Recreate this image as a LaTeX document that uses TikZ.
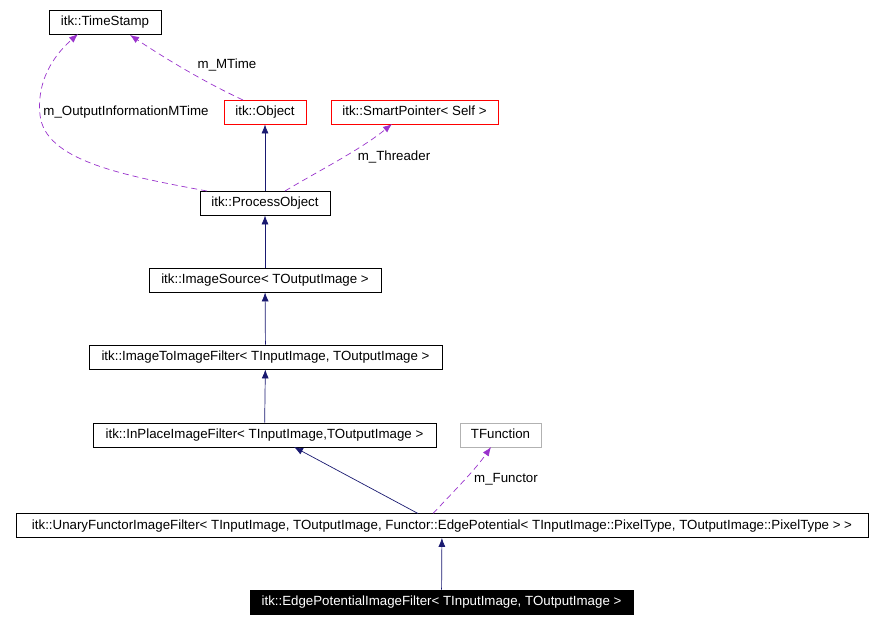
\documentclass[tikz,border=0pt]{standalone}
\usepackage{fontspec}
\setmainfont{Liberation Sans}
\usetikzlibrary{arrows.meta}
\begin{document}
\begin{tikzpicture}[x=1pt,y=-1pt,
  box/.style={draw=black,fill=white,font=\fontsize{13.3}{15}\selectfont,minimum height=24,inner sep=0pt,text height=9.5pt,text depth=2.5pt,line width=0.8pt},
  inh/.style={color={rgb,255:red,25;green,25;blue,112},-{Latex[length=9,width=7]},line width=0.7pt},
  use/.style={draw={rgb,255:red,153;green,50;blue,204},dash pattern=on 6pt off 4pt,-{Latex[length=9,width=7]},line width=0.7pt},
  lbl/.style={font=\fontsize{13.3}{15}\selectfont,fill=white,inner sep=1pt}]
\useasboundingbox (0,0) rectangle (874,623);
\node[box,minimum width=112] (ts) at (105,22) {itk::TimeStamp};
\node[box,draw=red,minimum width=82] (obj) at (265,112) {itk::Object};
\node[box,draw=red,minimum width=167] (sp) at (414.5,112) {itk::SmartPointer< Self >};
\node[box,minimum width=130] (po) at (265,203) {itk::ProcessObject};
\node[box,minimum width=232] (is) at (265,280) {itk::ImageSource< TOutputImage >};
\node[box,minimum width=353] (iti) at (265.5,357) {itk::ImageToImageFilter< TInputImage, TOutputImage >};
\node[box,minimum width=343] (ip) at (264.5,435) {itk::InPlaceImageFilter< TInputImage,TOutputImage >};
\node[box,draw=black!30,minimum width=81] (tf) at (500.5,435) {TFunction};
\node[box,minimum width=852] (un) at (442,525.5) {itk::UnaryFunctorImageFilter< TInputImage, TOutputImage, Functor::EdgePotential< TInputImage::PixelType, TOutputImage::PixelType > >};
\node[box,fill=black,text=white,minimum width=383] (ep) at (441.5,602) {itk::EdgePotentialImageFilter< TInputImage, TOutputImage >};

\draw[inh] (po) -- (obj);
\draw[inh] (is) -- (po);
\draw[inh] (iti) -- (is);
\draw[inh] (ip) -- (iti);
\draw[inh] (ep) -- (un);
\coordinate (u1) at (418,513.5);
\coordinate (ip1) at (294,447);
\draw[inh] (u1) -- (ip1);

\coordinate (po1) at (207,191);
\coordinate (ts1) at (78,34);
\draw[use] (po1) .. controls (120,175) and (45,160) .. (40,115) .. controls (36,75) and (60,50) .. (ts1);
\node[lbl] at (126,112) {m\_OutputInformationMTime};
\coordinate (o1) at (243,100);
\coordinate (ts2) at (130,35);
\draw[use] (o1) .. controls (200,80) and (160,55) .. (ts2);
\node[lbl] at (227,65) {m\_MTime};
\coordinate (po2) at (285,191);
\coordinate (sp1) at (392,124);
\draw[use] (po2) .. controls (320,170) and (360,150) .. (sp1);
\node[lbl] at (394,157) {m\_Threader};
\coordinate (u2) at (433,513.5);
\coordinate (tf1) at (491,447);
\draw[use] (u2) .. controls (455,490) and (475,470) .. (tf1);
\node[lbl] at (506,479) {m\_Functor};
\end{tikzpicture}
\end{document}
